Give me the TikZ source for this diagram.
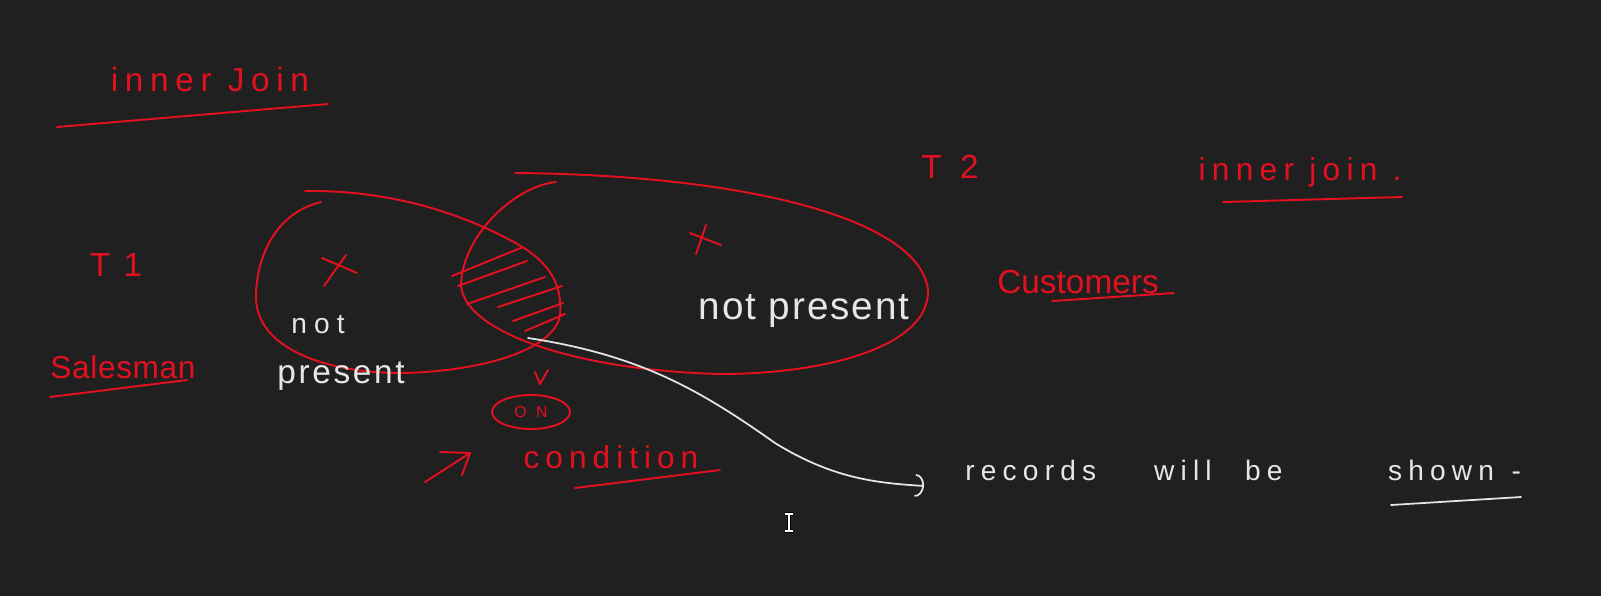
\documentclass[tikz,border=0pt]{standalone}
\usepackage{fontspec}
\setmainfont{Liberation Sans}
\usetikzlibrary{arrows.meta,shapes.geometric}
\definecolor{bg}{HTML}{212020}
\definecolor{ink}{HTML}{E3101F}
\definecolor{chalk}{HTML}{E6E6E6}
\newcommand{\hw}[2]{\fontsize{#1}{#1}\selectfont\addfontfeature{LetterSpace=#2}}
\tikzset{
  redline/.style={draw=ink, line width=1.1pt, line cap=round, line join=round},
  whiteline/.style={draw=chalk, line width=1pt, line cap=round, line join=round},
  redtxt/.style={text=ink, inner sep=0pt},
  whitetxt/.style={text=chalk, inner sep=0pt},
}
\begin{document}
\begin{tikzpicture}[x=0.02cm, y=-0.02cm]
\fill[bg] (0,0) rectangle (1601,596);
\useasboundingbox (0,0) rectangle (1601,596);

% headings and labels
\node[redtxt, font=\hw{19}{20}] (injoin) at (210,80) {inner Join};
\draw[redline] (57,127) -- (328,104);
\node[redtxt, font=\hw{19}{40}] (t1) at (116,265) {T1};
\node[redtxt, font=\hw{18}{2}] (sales) at (123,367) {Salesman};
\draw[redline] (50,397) -- (187,380);
\node[redtxt, font=\hw{19}{55}] (t2) at (950,167) {T2};
\node[redtxt, font=\hw{18}{20}] (injoin2) at (1300,172) {inner join .};
\draw[redline] (1223,202) -- (1402,197);
\node[redtxt, font=\hw{19}{0}] (cust) at (1078,282) {Customers};
\draw[redline] (1052,301) -- (1174,293);

% left set (T1)
\draw[redline] (321,202) .. controls (272,214) and (256,262) .. (256,297)
  .. controls (256,350) and (330,373) .. (400,373)
  .. controls (480,372) and (555,350) .. (560,315)
  .. controls (563,280) and (545,258) .. (510,240)
  .. controls (450,208) and (380,190) .. (305,191);
% right set (T2)
\draw[redline] (556,182) .. controls (515,186) and (463,235) .. (461,284)
  .. controls (462,330) and (570,370) .. (720,374)
  .. controls (830,374) and (930,345) .. (928,290)
  .. controls (920,220) and (750,175) .. (515,173);
% hatching of the intersection
\draw[redline] (452,276) -- (523,247);
\draw[redline] (458,286) -- (527,261);
\draw[redline] (467,304) -- (545,277);
\draw[redline] (498,307) -- (562,286);
\draw[redline] (513,321) -- (563,303);
\draw[redline] (525,331) -- (565,314);

% X marks
\draw[redline] (322,258) -- (357,273);
\draw[redline] (346,255) -- (324,286);
\draw[redline] (690,233) -- (721,245);
\draw[redline] (706,225) -- (696,254);

% not present texts
\node[whitetxt, font=\hw{16}{25}] (not1) at (318,325) {not};
\node[whitetxt, font=\hw{19}{8}] (pres1) at (341,376) {present};
\node[whitetxt, font=\hw{22}{5}] (notpres2) at (804,311) {not present};

% check mark, ON, condition
\draw[redline] (535,372) -- (540,384) -- (548,370);
\node[ellipse, draw=ink, line width=1.1pt, minimum width=1.56cm, minimum height=0.68cm,
      inner sep=0pt, text=ink, font=\hw{9}{60}] (on) at (531,412) {ON};
\draw[redline] (425,482) -- (470,453);
\draw[redline] (440,452) -- (470,453) -- (462,475);
\node[redtxt, font=\hw{18}{19}] (cond) at (611,457) {condition};
\draw[redline] (575,488) -- (720,470);

% connector to result text
\coordinate (lens) at (528,338);
\coordinate (tip) at (924,486);
\node[whitetxt, font=\hw{16}{22}, anchor=west] (rec) at (965,470)
  {records\hspace{33pt}will\hspace{19pt}be\hspace{60pt}shown\hspace{10pt}-};
\draw[whiteline, -{Arc Barb[length=5pt, width=13pt]}] (lens)
  .. controls (640,355) and (700,390) .. (775,443)
  .. controls (835,480) and (880,483) .. (tip);
\draw[whiteline] (1391,505) -- (1521,497);

% text cursor
\draw[black, line width=2.2pt] (785,514) -- (793,514) (789,514) -- (789,531) (785,531) -- (793,531);
\draw[white, line width=0.8pt] (785,514) -- (793,514) (789,514) -- (789,531) (785,531) -- (793,531);
\end{tikzpicture}
\end{document}
